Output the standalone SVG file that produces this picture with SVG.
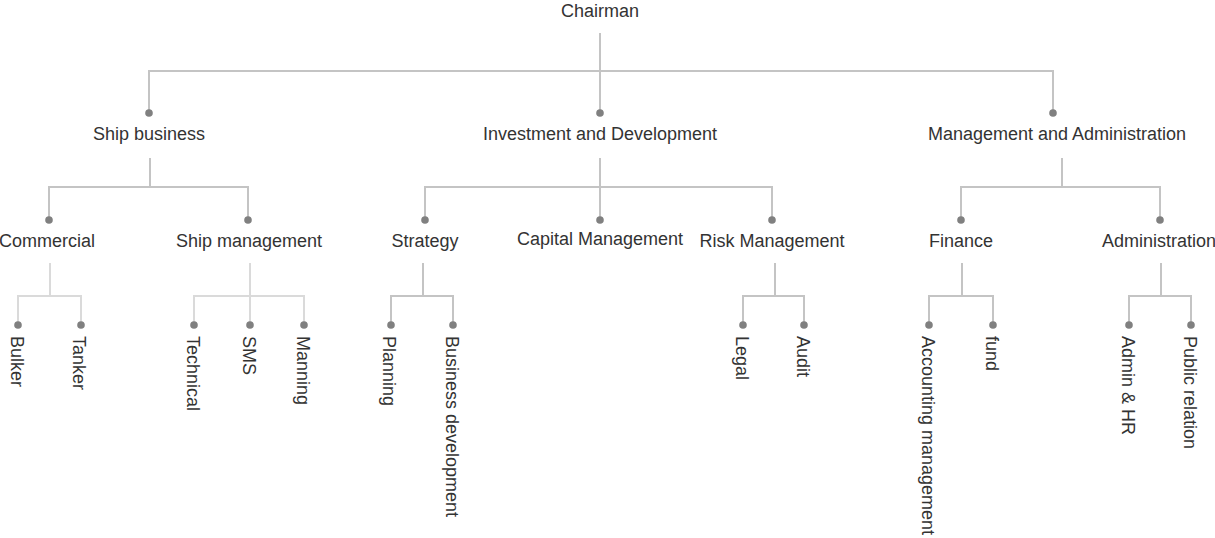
<svg xmlns="http://www.w3.org/2000/svg" width="1215" height="538" viewBox="0 0 1215 538">
<style>
text{font-family:"Liberation Sans",Arial,sans-serif;font-size:18px;fill:#333}
.c{text-anchor:middle}
.l{fill:none;stroke:#c4c4c4;stroke-width:2}
.ll{fill:none;stroke:#dadada;stroke-width:2}
.d{fill:#808080}
</style>
<rect width="1215" height="538" fill="#fff"/>
<g id="connectors">
<path class="l" d="M600 33V71M149 113V71H1053V113M600 71V113"/>
<path class="l" d="M150 158V187M49 220V187H248V220"/>
<path class="l" d="M600 158V220M425 220V187H772V220"/>
<path class="l" d="M1062 158V187M961 220V187H1160V220"/>
<path class="ll" d="M50 263V296M18 325V296H81V325"/>
<path class="ll" d="M250 263V325M194 325V296H304V325"/>
<path class="l" d="M423 263V296M391 325V296H453V325"/>
<path class="l" d="M775 263V296M743 325V296H804V325"/>
<path class="l" d="M962 263V296M929 325V296H993V325"/>
<path class="l" d="M1161 263V296M1129 325V296H1191V325"/>
</g>
<g id="n-chairman"><text class="c" x="600" y="17">Chairman</text></g>
<g id="n-ship-business"><circle class="d" cx="149" cy="113" r="3.8"/><text class="c" x="149" y="140">Ship business</text></g>
<g id="n-investment"><circle class="d" cx="600" cy="113" r="3.8"/><text class="c" x="600" y="140">Investment and Development</text></g>
<g id="n-management"><circle class="d" cx="1053" cy="113" r="3.8"/><text class="c" x="1057" y="140">Management and Administration</text></g>
<g id="n-commercial"><circle class="d" cx="49" cy="220" r="3.8"/><text class="c" x="47" y="247">Commercial</text></g>
<g id="n-ship-management"><circle class="d" cx="248" cy="220" r="3.8"/><text class="c" x="249" y="247">Ship management</text></g>
<g id="n-strategy"><circle class="d" cx="425" cy="220" r="3.8"/><text class="c" x="425" y="247">Strategy</text></g>
<g id="n-capital"><circle class="d" cx="600" cy="220" r="3.8"/><text class="c" x="600" y="245">Capital Management</text></g>
<g id="n-risk"><circle class="d" cx="772" cy="220" r="3.8"/><text class="c" x="772" y="247">Risk Management</text></g>
<g id="n-finance"><circle class="d" cx="961" cy="220" r="3.8"/><text class="c" x="961" y="247">Finance</text></g>
<g id="n-administration"><circle class="d" cx="1160" cy="220" r="3.8"/><text class="c" x="1159" y="247">Administration</text></g>
<g id="n-bulker"><circle class="d" cx="18" cy="325" r="3.8"/><text transform="translate(18,336) rotate(90)" y="7">Bulker</text></g>
<g id="n-tanker"><circle class="d" cx="81" cy="325" r="3.8"/><text transform="translate(80,336) rotate(90)" y="7">Tanker</text></g>
<g id="n-technical"><circle class="d" cx="194" cy="325" r="3.8"/><text transform="translate(194,336) rotate(90)" y="7">Technical</text></g>
<g id="n-sms"><circle class="d" cx="250" cy="325" r="3.8"/><text transform="translate(250,336) rotate(90)" y="7">SMS</text></g>
<g id="n-manning"><circle class="d" cx="304" cy="325" r="3.8"/><text transform="translate(304,336) rotate(90)" y="7">Manning</text></g>
<g id="n-planning"><circle class="d" cx="391" cy="325" r="3.8"/><text transform="translate(390,336) rotate(90)" y="7">Planning</text></g>
<g id="n-business-development"><circle class="d" cx="453" cy="325" r="3.8"/><text transform="translate(453,336) rotate(90)" y="7">Business development</text></g>
<g id="n-legal"><circle class="d" cx="743" cy="325" r="3.8"/><text transform="translate(743,336) rotate(90)" y="7">Legal</text></g>
<g id="n-audit"><circle class="d" cx="804" cy="325" r="3.8"/><text transform="translate(804,336) rotate(90)" y="7">Audit</text></g>
<g id="n-accounting"><circle class="d" cx="929" cy="325" r="3.8"/><text transform="translate(929,336) rotate(90)" y="7">Accounting management</text></g>
<g id="n-fund"><circle class="d" cx="993" cy="325" r="3.8"/><text transform="translate(993,336) rotate(90)" y="7">fund</text></g>
<g id="n-admin-hr"><circle class="d" cx="1129" cy="325" r="3.8"/><text transform="translate(1129,336) rotate(90)" y="7">Admin &amp; HR</text></g>
<g id="n-public-relation"><circle class="d" cx="1191" cy="325" r="3.8"/><text transform="translate(1191,336) rotate(90)" y="7">Public relation</text></g>
</svg>
